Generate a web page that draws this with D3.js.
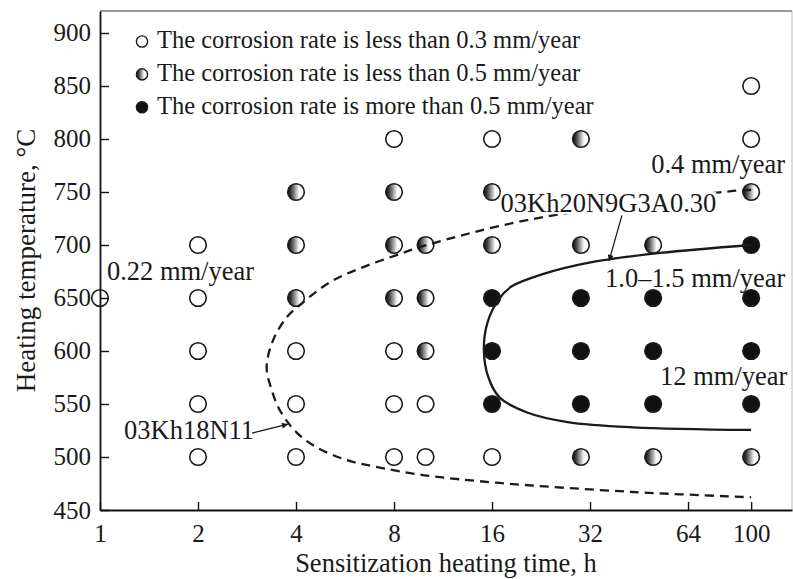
<!DOCTYPE html>
<html>
<head>
<meta charset="utf-8">
<script src="https://cdnjs.cloudflare.com/ajax/libs/d3/7.8.5/d3.min.js"></script>
<style>
    body { margin: 0; background: #fff; }
    svg { display: block; font-family: "Liberation Serif", "Times New Roman", serif; }
</style>
</head>
<body>
<svg id="chart" width="793" height="579"></svg>
<script>
// points are [sensitization time h, heating temperature C]
var lowRate = [
    [100, 850],
    [8, 800], [16, 800], [100, 800],
    [2, 700],
    [1, 650], [2, 650],
    [2, 600], [4, 600], [8, 600],
    [2, 550], [4, 550], [8, 550], [10, 550],
    [2, 500], [4, 500], [8, 500], [10, 500], [16, 500]
];
var midRate = [
    [30, 800],
    [4, 750], [8, 750], [16, 750], [100, 750],
    [4, 700], [8, 700], [10, 700], [16, 700], [30, 700], [50, 700],
    [4, 650], [8, 650], [10, 650],
    [10, 600],
    [30, 500], [50, 500], [100, 500]
];
var highRate = [
    [100, 700],
    [16, 650], [30, 650], [50, 650], [100, 650],
    [16, 600], [30, 600], [50, 600], [100, 600],
    [16, 550], [30, 550], [50, 550], [100, 550]
];

// boundary curves
var steel18N11 = [
    [100, 752], [88, 751], [20.9, 724], [10.1, 700], [8.06, 690], [6.29, 678],
    [5.09, 665], [4.17, 645], [3.75, 632], [3.4, 610], [3.25, 585], [3.37, 563],
    [3.57, 544], [4.02, 523], [4.64, 509], [5.74, 497], [7.24, 490], [9.8, 483],
    [16.9, 475.5], [43.4, 467], [100, 462]
];
var steel20N9 = [
    [100, 700], [52.5, 692.5], [32.7, 684], [22.9, 672.5], [18.4, 661], [16.8, 649],
    [15.5, 627], [15.1, 601], [15.6, 575], [16.9, 556], [20.5, 542], [27.3, 533],
    [43.4, 528], [100, 525.5]
];

var xTicks = [1, 2, 4, 8, 16, 32, 64, 100];
var yTicks = [450, 500, 550, 600, 650, 700, 750, 800, 850, 900];

var legendLabels = [
    "The corrosion rate is less than 0.3 mm/year",
    "The corrosion rate is less than 0.5 mm/year",
    "The corrosion rate is more than 0.5 mm/year"
];

var noteText = ["0.22 mm/year", "0.4 mm/year", "03Kh20N9G3A0.30", "1.0\u20131.5 mm/year", "12 mm/year", "03Kh18N11"];
var noteAt = [[1.05, 667], [49.3, 768], [17.0, 731], [35.6, 660], [52.5, 568], [1.185, 517]];
var arrows = [
    [[40.1, 728], [36.6, 685]],
    [[2.93, 522.6], [3.78, 531]]
];

var xAxisTitle = "Sensitization heating time, h";
var yAxisTitle = "Heating temperature, \u00B0C";

var margin = {top: 11, right: 1, bottom: 69, left: 100};
var width = 793 - margin.left - margin.right;
var height = 579 - margin.top - margin.bottom;

var svg = d3.select("#chart");

var x = d3.scaleLog().base(2)
    .domain([1, 133.5])
    .range([margin.left, margin.left + width]);

var y = d3.scaleLinear()
    .domain([450, 920.75])
    .range([margin.top + height, margin.top]);

var defs = svg.append("defs");

var grad = defs.append("linearGradient")
    .attr("id", "half")
    .attr("x1", "0").attr("x2", "1")
    .attr("y1", "0").attr("y2", "0");
grad.append("stop").attr("offset", "0%").attr("stop-color", "#111");
grad.append("stop").attr("offset", "20%").attr("stop-color", "#3a3a3a");
grad.append("stop").attr("offset", "70%").attr("stop-color", "#fff");
grad.append("stop").attr("offset", "100%").attr("stop-color", "#fff");

defs.append("marker")
    .attr("id", "head")
    .attr("markerUnits", "userSpaceOnUse")
    .attr("viewBox", "0 0 10 10")
    .attr("refX", 10).attr("refY", 5)
    .attr("markerWidth", 8).attr("markerHeight", 6)
    .attr("orient", "auto")
    .append("path")
    .attr("d", "M0,0L10,5L0,10z")
    .attr("fill", "#111");

// frame: top and right edges
svg.append("line")
    .attr("x1", margin.left).attr("x2", margin.left + width)
    .attr("y1", margin.top).attr("y2", margin.top)
    .attr("stroke", "#333").attr("stroke-width", 1.2);
svg.append("line")
    .attr("x1", margin.left + width).attr("x2", margin.left + width)
    .attr("y1", margin.top).attr("y2", margin.top + height)
    .attr("stroke", "#bbb").attr("stroke-width", 1);

// points
var fills = [
    {data: lowRate, fill: "#fff"},
    {data: midRate, fill: "url(#half)"},
    {data: highRate, fill: "#111"}
];

var dots = svg.append("g").attr("class", "dots");
fills.forEach(function(f) {
    dots.selectAll(null)
        .data(f.data)
        .enter()
        .append("circle")
        .attr("cx", function(d) { return x(d[0]); })
        .attr("cy", function(d) { return y(d[1]); })
        .attr("r", 8.3)
        .attr("fill", f.fill)
        .attr("stroke", "#1a1a1a")
        .attr("stroke-width", 1.6);
});

// curves
var curveLine = d3.line()
    .x(function(d) { return x(d[0]); })
    .y(function(d) { return y(d[1]); })
    .curve(d3.curveCatmullRom.alpha(0.5));

svg.append("path")
    .datum(steel18N11)
    .attr("d", curveLine)
    .attr("fill", "none")
    .attr("stroke", "#1a1a1a")
    .attr("stroke-width", 2.3)
    .attr("stroke-dasharray", "9,6");

svg.append("path")
    .datum(steel20N9)
    .attr("d", curveLine)
    .attr("fill", "none")
    .attr("stroke", "#1a1a1a")
    .attr("stroke-width", 2.3);

// axes
var xAxis = d3.axisBottom(x)
    .tickValues(xTicks)
    .tickFormat(d3.format("d"))
    .tickSizeInner(-8)
    .tickSizeOuter(0)
    .tickPadding(14);

var yAxis = d3.axisLeft(y)
    .tickValues(yTicks)
    .tickSizeInner(-9)
    .tickSizeOuter(0)
    .tickPadding(9);

var gx = svg.append("g")
    .attr("transform", "translate(0," + (margin.top + height) + ")")
    .call(xAxis);

var gy = svg.append("g")
    .attr("transform", "translate(" + margin.left + ",0)")
    .call(yAxis);

[gx, gy].forEach(function(g) {
    g.select(".domain").attr("stroke", "#111").attr("stroke-width", 1.8);
    g.selectAll(".tick line").attr("stroke", "#111").attr("stroke-width", 1.4);
    g.selectAll(".tick text")
        .attr("font-family", "Liberation Serif, Times New Roman, serif")
        .attr("font-size", 25)
        .attr("fill", "#1a1a1a");
});
gx.selectAll(".tick text").attr("dy", "0.71em");

svg.append("text")
    .attr("x", margin.left + width / 2)
    .attr("y", 572)
    .attr("text-anchor", "middle")
    .attr("font-size", 26.5)
    .attr("fill", "#1a1a1a")
    .text(xAxisTitle);

svg.append("text")
    .attr("transform", "translate(35," + (margin.top + height / 2) + ") rotate(-90)")
    .attr("text-anchor", "middle")
    .attr("font-size", 27)
    .attr("fill", "#1a1a1a")
    .text(yAxisTitle);

// legend
var legend = svg.append("g").attr("class", "legend");
var legendFills = ["#fff", "url(#half)", "#111"];
legendLabels.forEach(function(label, i) {
    var base = 48.3 + i * 32.9;
    legend.append("circle")
        .attr("cx", 142)
        .attr("cy", base - 6.8)
        .attr("r", 5.6)
        .attr("fill", legendFills[i])
        .attr("stroke", "#1a1a1a")
        .attr("stroke-width", 1.4);
    legend.append("text")
        .attr("x", 157)
        .attr("y", base)
        .attr("font-size", 24.5)
        .attr("fill", "#1a1a1a")
        .text(label);
});

// annotations
var notes = svg.append("g").attr("class", "notes");
noteText.forEach(function(t, i) {
    var g = notes.append("g");
    var bg = g.append("rect").attr("fill", "#fff");
    var txt = g.append("text")
        .attr("x", x(noteAt[i][0]))
        .attr("y", y(noteAt[i][1]))
        .attr("font-size", 26.5)
        .attr("fill", "#1a1a1a")
        .text(t);
    if (t === "03Kh20N9G3A0.30") {
        var b = txt.node().getBBox();
        bg.attr("x", b.x).attr("y", b.y + 4)
            .attr("width", b.width).attr("height", b.height - 8);
    } else {
        bg.remove();
    }
});

notes.selectAll("line.arrow")
    .data(arrows)
    .enter()
    .append("line")
    .attr("class", "arrow")
    .attr("x1", function(d) { return x(d[0][0]); })
    .attr("y1", function(d) { return y(d[0][1]); })
    .attr("x2", function(d) { return x(d[1][0]); })
    .attr("y2", function(d) { return y(d[1][1]); })
    .attr("stroke", "#111")
    .attr("stroke-width", 1.2)
    .attr("marker-end", "url(#head)");
</script>
</body>
</html>
